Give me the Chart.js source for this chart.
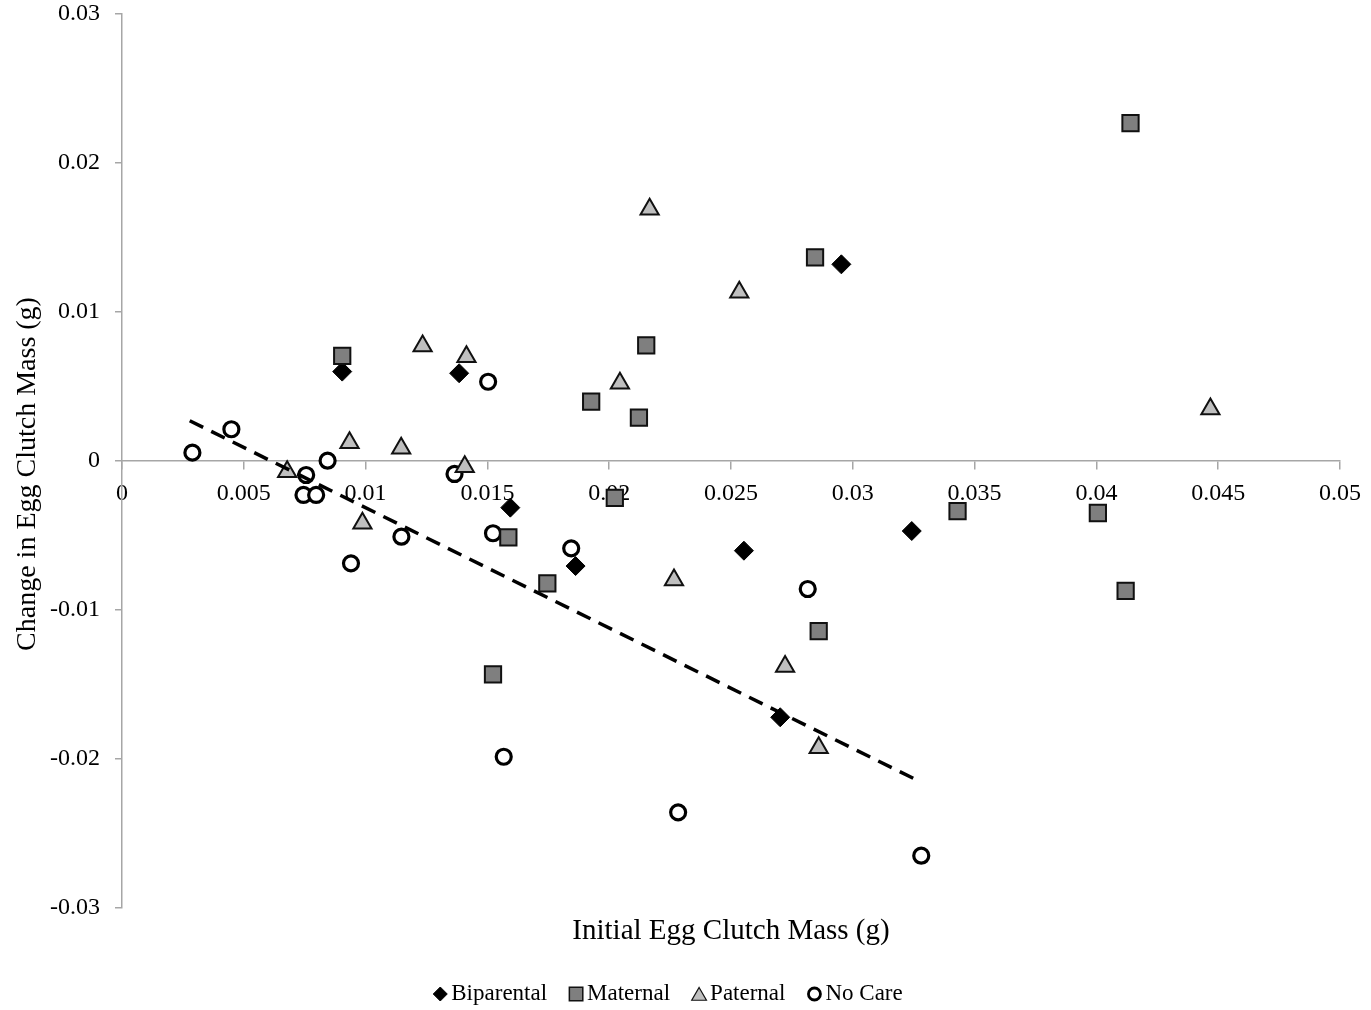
<!DOCTYPE html>
<html>
<head>
<meta charset="utf-8">
<script src="https://cdn.jsdelivr.net/npm/chart.js@4.4.1/dist/chart.umd.min.js"></script>
<style>
  html, body { margin: 0; padding: 0; background: #fff; }
  #wrap { width: 1371px; height: 1010px; }
</style>
</head>
<body>
<div id="wrap"><canvas id="chart"></canvas></div>
<script>
// initial clutch mass (x) vs change in clutch mass (y), grams
const biparentalX = [0.00904, 0.01384, 0.01594, 0.01862, 0.02553, 0.02702, 0.02953, 0.03242];
const biparentalY = [0.0060, 0.00589, -0.00313, -0.00705, -0.00602, -0.0172, 0.0132, -0.0047];

const maternalX = [0.00904, 0.01926, 0.02122, 0.02152, 0.01586, 0.01746, 0.02023, 0.01523, 0.02845, 0.0286, 0.0343, 0.04006, 0.0412, 0.0414];
const maternalY = [0.00705, 0.00398, 0.00291, 0.00776, -0.00512, -0.00821, -0.00248, -0.01432, 0.01367, -0.01141, -0.00336, -0.00349, -0.00872, 0.02268];

const paternalX = [0.00678, 0.00934, 0.01146, 0.01234, 0.01414, 0.01407, 0.00987, 0.02166, 0.02044, 0.02266, 0.02534, 0.02722, 0.0286, 0.04468];
const paternalY = [-0.00072, 0.00123, 0.00085, 0.00772, 0.007, -0.00038, -0.00418, 0.01689, 0.00521, -0.00799, 0.01132, -0.0138, -0.01924, 0.00349];

const noCareX = [0.00289, 0.00449, 0.00756, 0.00745, 0.00797, 0.00844, 0.0094, 0.01147, 0.01365, 0.01503, 0.01523, 0.01567, 0.01844, 0.02283, 0.02815, 0.03281];
const noCareY = [0.00056, 0.00213, -0.00094, -0.00228, -0.00228, 0.00002, -0.00687, -0.00508, -0.00087, 0.00532, -0.00485, -0.01985, -0.00586, -0.02358, -0.00859, -0.02649];

// linear trend through the no-care clutches
const trendX = [0.00278, 0.03281];
const trendY = [0.0027, -0.02156];

const xTitle = "Initial Egg Clutch Mass (g)";
const yTitle = "Change in Egg Clutch Mass (g)";

const serif = "'Liberation Serif', 'Times New Roman', serif";

function toPoints(xs, ys) {
  return xs.map((x, i) => ({ x: x, y: ys[i] }));
}

function tickText(v) {
  return String(Number(v.toFixed(4)));
}

// axis titles and the legend row under the plot
const captions = {
  id: "captions",
  afterDraw(chart) {
    const { ctx, chartArea } = chart;
    ctx.save();
    ctx.fillStyle = "#000";
    ctx.textBaseline = "middle";
    ctx.font = "29px " + serif;
    ctx.textAlign = "center";
    ctx.fillText(xTitle, (chartArea.left + chartArea.right) / 2, chartArea.bottom + 23);
    ctx.save();
    ctx.font = "28px " + serif;
    ctx.translate(28, (chartArea.top + chartArea.bottom) / 2 + 13);
    ctx.rotate(-Math.PI / 2);
    ctx.fillText(yTitle, 0, 0);
    ctx.restore();

    ctx.font = "23px " + serif;
    ctx.textAlign = "left";
    const sets = chart.data.datasets.filter((d) => d.legend);
    const markW = 14, gap = 4, itemGap = 22;
    const widths = sets.map((d) => markW + gap + ctx.measureText(d.label).width);
    const total = widths.reduce((a, b) => a + b, 0) + itemGap * (sets.length - 1);
    let x = 668 - total / 2;
    const y = 994;
    sets.forEach((d, i) => {
      const m = d.legend;
      ctx.fillStyle = d.backgroundColor;
      ctx.strokeStyle = d.borderColor;
      ctx.lineWidth = m.borderWidth;
      Chart.helpers.drawPoint(ctx, {
        pointStyle: d.pointStyle, rotation: 0, radius: m.radius, borderWidth: m.borderWidth
      }, x + markW / 2, y + (m.dy || 0));
      ctx.fillStyle = "#000";
      ctx.fillText(d.label, x + markW + gap, y);
      x += widths[i] + itemGap;
    });
    ctx.restore();
  }
};

new Chart(document.getElementById("chart"), {
  type: "scatter",
  data: {
    datasets: [
      {
        label: "Trend",
        data: toPoints(trendX, trendY),
        showLine: true,
        borderColor: "#000",
        borderWidth: 3.5,
        borderDash: [15, 9],
        pointRadius: 0,
        order: 0,
      },
      {
        label: "Biparental",
        data: toPoints(biparentalX, biparentalY),
        pointStyle: "rectRot",
        pointRadius: 9.5,
        backgroundColor: "#000",
        borderColor: "#000",
        borderWidth: 1,
        order: 3,
        legend: { radius: 7, borderWidth: 1 },
      },
      {
        label: "Maternal",
        data: toPoints(maternalX, maternalY),
        pointStyle: "rect",
        pointRadius: 11.5,
        backgroundColor: "#7f7f7f",
        borderColor: "#111",
        borderWidth: 2,
        order: 2,
        legend: { radius: 9.5, borderWidth: 1.5 },
      },
      {
        label: "Paternal",
        data: toPoints(paternalX, paternalY),
        pointStyle: "triangle",
        pointRadius: 10.5,
        backgroundColor: "#bfbfbf",
        borderColor: "#111",
        borderWidth: 2,
        order: 1,
        legend: { radius: 8.5, borderWidth: 1.2, dy: 2 },
      },
      {
        label: "No Care",
        data: toPoints(noCareX, noCareY),
        pointStyle: "circle",
        pointRadius: 7.5,
        backgroundColor: "#fff",
        borderColor: "#000",
        borderWidth: 3.2,
        order: 4,
        legend: { radius: 6, borderWidth: 2.8 },
      },
    ],
  },
  options: {
    responsive: true,
    maintainAspectRatio: false,
    animation: false,
    layout: { padding: { left: 0, right: 28, top: 0, bottom: 102 } },
    plugins: {
      legend: { display: false },
      tooltip: { enabled: false },
    },
    scales: {
      x: {
        type: "linear",
        position: { y: 0 },
        min: 0,
        max: 0.05,
        border: { display: true, color: "#a6a6a6", width: 1.5 },
        grid: { drawOnChartArea: false, drawTicks: true, tickLength: 8, color: "#a6a6a6", lineWidth: 1.5 },
        ticks: {
          stepSize: 0.005,
          padding: 10,
          color: "#000",
          maxRotation: 0,
          autoSkip: false,
          font: { family: serif, size: 24 },
          callback: tickText,
        },
      },
      y: {
        type: "linear",
        position: "left",
        min: -0.03,
        max: 0.03,
        afterFit(scale) {
          scale.width = 122;
          scale.paddingTop = 14;
          scale.paddingBottom = 0;
        },
        border: { display: true, color: "#a6a6a6", width: 1.5 },
        grid: { drawOnChartArea: false, drawTicks: true, tickLength: 7, color: "#a6a6a6", lineWidth: 1.5 },
        ticks: {
          stepSize: 0.01,
          padding: 15,
          color: "#000",
          font: { family: serif, size: 24 },
          callback: tickText,
        },
      },
    },
  },
  plugins: [captions],
});
</script>
</body>
</html>
